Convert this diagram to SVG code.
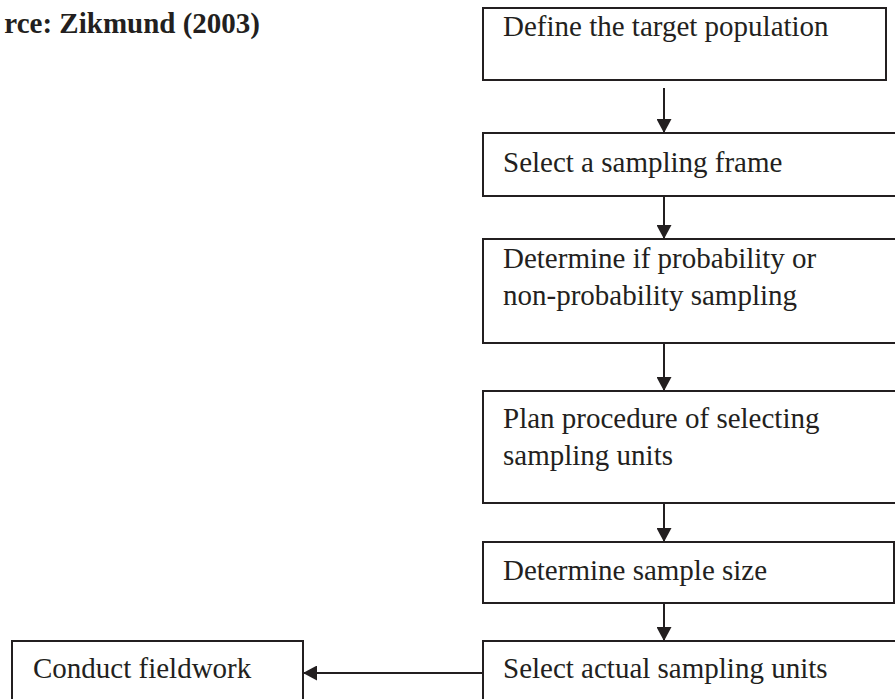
<svg xmlns="http://www.w3.org/2000/svg" width="895" height="699" viewBox="0 0 895 699">
<defs>
<style>
.box{fill:#fff;stroke:#231f20;stroke-width:2}
.t{font-family:"Liberation Serif","Times New Roman",serif;font-size:29px;fill:#231f20}
.title{font-family:"Liberation Serif","Times New Roman",serif;font-size:29px;font-weight:bold;fill:#231f20}
.c{stroke:#231f20;stroke-width:2;fill:none;marker-end:url(#ah)}
</style>
<marker id="ah" markerWidth="15" markerHeight="15" refX="14" refY="7.5" orient="auto" markerUnits="userSpaceOnUse">
<path d="M0,0 L14,7.5 L0,15 Z" fill="#231f20"/>
</marker>
</defs>
<rect width="895" height="699" fill="#fff"/>
<text class="title" x="260" y="33" text-anchor="end">rce: Zikmund (2003)</text>
<g id="connectors">
<line class="c" x1="664" y1="88" x2="664" y2="133"/>
<line class="c" x1="664" y1="196" x2="664" y2="239"/>
<line class="c" x1="664" y1="343" x2="664" y2="391"/>
<line class="c" x1="664" y1="503" x2="664" y2="542"/>
<line class="c" x1="664" y1="603" x2="664" y2="641"/>
<line class="c" x1="483" y1="673" x2="303" y2="673"/>
</g>
<g id="n1">
<rect class="box" x="483" y="8" width="403" height="72"/>
<text class="t" x="503" y="36">Define the target population</text>
</g>
<g id="n2">
<rect class="box" x="483" y="133" width="420" height="63"/>
<text class="t" x="503" y="172">Select a sampling frame</text>
</g>
<g id="n3">
<rect class="box" x="483" y="239" width="420" height="104"/>
<text class="t" x="503" y="268">Determine if probability or</text>
<text class="t" x="503" y="305">non-probability sampling</text>
</g>
<g id="n4">
<rect class="box" x="483" y="391" width="420" height="112"/>
<text class="t" x="503" y="428">Plan procedure of selecting</text>
<text class="t" x="503" y="465">sampling units</text>
</g>
<g id="n5">
<rect class="box" x="483" y="542" width="411" height="61"/>
<text class="t" x="503" y="580">Determine sample size</text>
</g>
<g id="n6">
<rect class="box" x="483" y="641" width="420" height="70"/>
<text class="t" x="503" y="678">Select actual sampling units</text>
</g>
<g id="n7">
<rect class="box" x="12" y="641" width="291" height="70"/>
<text class="t" x="33" y="678">Conduct fieldwork</text>
</g>
</svg>
